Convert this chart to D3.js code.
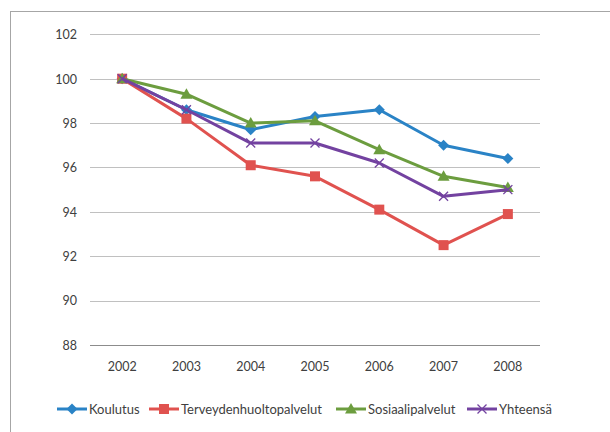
<!DOCTYPE html>
<html><head><meta charset="utf-8">
<script src="https://cdn.jsdelivr.net/npm/d3@7"></script>
<style>body{margin:0;background:#fff}svg{display:block}text{font-family:Lato,"Open Sans",sans-serif;fill:#404040}</style>
</head><body>
<svg id="c" width="610" height="432"></svg>
<script>
const years = ["2002","2003","2004","2005","2006","2007","2008"];
const yTicks = [88,90,92,94,96,98,100,102];
const seriesNames = ["Koulutus","Terveydenhuoltopalvelut","Sosiaalipalvelut","Yhteensä"];
const koulutus = [100,98.6,97.7,98.3,98.6,97.0,96.4];
const terveys = [100,98.2,96.1,95.6,94.1,92.5,93.9];
const sosiaali = [100,99.3,98.0,98.1,96.8,95.6,95.1];
const yhteensa = [100,98.6,97.1,97.1,96.2,94.7,95.0];
const colors = ["#2A83C6","#E0524F","#6C9D3F","#7342A0"];
const symbols = ["diamond","square","triangle","x"];

const svg = d3.select("#c");
svg.append("rect").attr("x",10.5).attr("y",11.5).attr("width",640).attr("height",500)
  .attr("fill","none").attr("stroke","#a6a6a6").attr("stroke-width",1);

const pLeft=90,pRight=540,pTop=34.3,pBottom=345;
const x = d3.scaleBand().domain(years).range([pLeft,pRight]);
const y = d3.scaleLinear().domain([88,102]).range([pBottom,pTop]);

const g = svg.append("g");
g.selectAll("line.grid").data(yTicks).join("line")
  .attr("x1",pLeft).attr("x2",pRight)
  .attr("y1",d=>Math.round(y(d))+0.5).attr("y2",d=>Math.round(y(d))+0.5)
  .attr("stroke",d=>d===88?"#8c8c8c":"#c0c0c0").attr("stroke-width",1);

const yAxis = d3.axisLeft(y).tickValues(yTicks).tickSize(0).tickPadding(0);
const ya = svg.append("g").attr("transform",`translate(77,0)`).call(yAxis);
ya.select(".domain").remove();
ya.selectAll("text").style("font-size","12.5px").attr("fill","#404040").attr("dy","0.35em");

const xAxis = d3.axisBottom(x).tickSize(0).tickPadding(0);
const xa = svg.append("g").attr("transform",`translate(0,${pBottom+22})`).call(xAxis);
xa.select(".domain").remove();
xa.selectAll("text").style("font-size","12.5px").attr("fill","#404040").attr("dy","0.35em");

const data = [koulutus,terveys,sosiaali,yhteensa];
const cx = d=>x(d)+x.bandwidth()/2;
const line = d3.line().x((v,i)=>cx(years[i])).y(v=>y(v));

function marker(sel, type, color){
  if(type==="diamond") sel.append("path").attr("d","M0,-5.5L5.5,0L0,5.5L-5.5,0Z").attr("fill",color);
  else if(type==="square") sel.append("rect").attr("x",-5).attr("y",-5).attr("width",10).attr("height",10).attr("fill",color);
  else if(type==="triangle") sel.append("path").attr("d","M0,-6L6,4.5L-6,4.5Z").attr("fill",color);
  else sel.append("path").attr("d","M-4.5,-4.5L4.5,4.5M-4.5,4.5L4.5,-4.5").attr("stroke",color).attr("stroke-width",1.3).attr("fill","none");
}

data.forEach((vals,si)=>{
  g.append("path").datum(vals).attr("d",line).attr("fill","none")
    .attr("stroke",colors[si]).attr("stroke-width",3).attr("stroke-linejoin","round");
  vals.forEach((v,i)=>{
    const m = g.append("g").attr("transform",`translate(${cx(years[i])},${y(v)})`);
    marker(m,symbols[si],colors[si]);
  });
});

// legend
const legX = [57,149,336,467];
const legY = 409;
seriesNames.forEach((n,si)=>{
  const lg = svg.append("g").attr("transform",`translate(${legX[si]},${legY})`);
  lg.append("line").attr("x1",0).attr("x2",30).attr("y1",0).attr("y2",0).attr("stroke",colors[si]).attr("stroke-width",3);
  const m = lg.append("g").attr("transform","translate(15,0)");
  marker(m,symbols[si],colors[si]);
  lg.append("text").attr("x",32).attr("y",0).attr("dy","0.35em").style("font-size","13px").text(n);
});
</script>
</body></html>
